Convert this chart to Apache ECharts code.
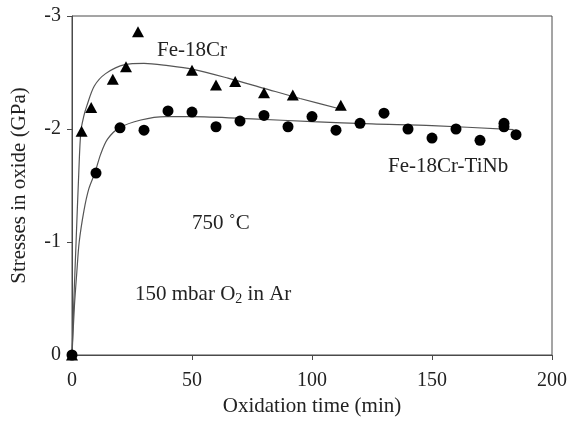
<!DOCTYPE html>
<html>
<head>
<meta charset="utf-8">
<script src="https://cdn.jsdelivr.net/npm/echarts@6/dist/echarts.min.js"></script>
<style>
  html, body { margin: 0; padding: 0; background: #fff; }
  #chart { width: 570px; height: 422px; }
</style>
</head>
<body>
<div id="chart"></div>
<script>
// Measured stresses in the oxide scale, [time (min), stress (GPa)]
var fe18Cr = [
  [0, 0], [4, -1.98], [8, -2.19], [17, -2.44], [22.5, -2.55], [27.5, -2.86],
  [50, -2.52], [60, -2.39], [68, -2.42], [80, -2.32], [92, -2.30], [112, -2.21]
];
var fe18CrTiNb = [
  [0, 0], [10, -1.61], [20, -2.01], [30, -1.99], [40, -2.16], [50, -2.15],
  [60, -2.02], [70, -2.07], [80, -2.12], [90, -2.02], [100, -2.11], [110, -1.99],
  [120, -2.05], [130, -2.14], [140, -2.00], [150, -1.92], [160, -2.00], [170, -1.90],
  [180, -2.05], [180, -2.02], [185, -1.95]
];
// Fitted trend curves
var fitFe18Cr = [
  [0, 0], [0.8, -0.5], [1.7, -1.0], [2.8, -1.6], [3.7, -1.98], [5, -2.12],
  [6.1, -2.2], [9.3, -2.38], [14, -2.49], [22, -2.57], [30, -2.58], [40, -2.56],
  [50, -2.53], [65, -2.45], [80, -2.36], [95, -2.27], [113, -2.17]
];
var fitFe18CrTiNb = [
  [0, 0], [1, -0.43], [2, -0.73], [3, -1.0], [5, -1.28], [7, -1.47], [9.5, -1.61],
  [12, -1.78], [14.8, -1.91], [19.7, -2.01], [28.7, -2.08], [39, -2.11], [50, -2.11],
  [75, -2.09], [100, -2.065], [125, -2.045], [150, -2.03], [184, -1.995]
];
// Axis ticks
var xTicks = [0, 50, 100, 150, 200];
var yTicks = [-3, -2, -1, 0];

var FONT = 'Liberation Serif';
var AXIS_COLOR = '#4a4a4a';
var TEXT_COLOR = '#222';

var chart = echarts.init(document.getElementById('chart'), null, { renderer: 'canvas' });

chart.setOption({
  backgroundColor: '#fff',
  animation: false,
  grid: {
    left: 72, right: 17, top: 16, bottom: 66,
    show: true, borderColor: AXIS_COLOR, borderWidth: 1
  },
  xAxis: {
    type: 'value',
    min: xTicks[0], max: xTicks[xTicks.length - 1], interval: 50,
    name: 'Oxidation time (min)',
    nameLocation: 'middle', nameGap: 41,
    nameTextStyle: { fontFamily: FONT, fontSize: 21, color: TEXT_COLOR },
    axisLine: { lineStyle: { color: AXIS_COLOR, width: 1 } },
    axisTick: { inside: false, length: 5, lineStyle: { color: AXIS_COLOR } },
    axisLabel: { fontFamily: FONT, fontSize: 20, color: TEXT_COLOR, margin: 16 },
    splitLine: { show: false }
  },
  yAxis: {
    type: 'value',
    inverse: true,
    min: yTicks[0], max: yTicks[yTicks.length - 1], interval: 1,
    name: 'Stresses in oxide (GPa)',
    nameLocation: 'middle', nameGap: 42,
    nameTextStyle: { fontFamily: FONT, fontSize: 21, color: TEXT_COLOR },
    axisLine: { lineStyle: { color: AXIS_COLOR, width: 1 } },
    axisTick: { inside: false, length: 5, lineStyle: { color: AXIS_COLOR } },
    axisLabel: { fontFamily: FONT, fontSize: 20, color: TEXT_COLOR, margin: 11 },
    splitLine: { show: false }
  },
  series: [
    {
      name: 'fit Fe-18Cr', type: 'line', data: fitFe18Cr, smooth: 0.3,
      showSymbol: false, lineStyle: { color: '#555', width: 1.2 }, z: 2
    },
    {
      name: 'fit Fe-18Cr-TiNb', type: 'line', data: fitFe18CrTiNb, smooth: 0.3,
      showSymbol: false, lineStyle: { color: '#555', width: 1.2 }, z: 2
    },
    {
      name: 'Fe-18Cr', type: 'scatter', data: fe18Cr, symbol: 'triangle',
      symbolSize: [12, 11], itemStyle: { color: '#000', opacity: 1 }, clip: false, z: 3
    },
    {
      name: 'Fe-18Cr-TiNb', type: 'scatter', data: fe18CrTiNb, symbol: 'circle',
      symbolSize: 11, itemStyle: { color: '#000', opacity: 1 }, clip: false, z: 4
    }
  ],
  graphic: [
    {
      type: 'text', left: 157, top: 40,
      style: { text: 'Fe-18Cr', font: '21px "Liberation Serif"', fill: TEXT_COLOR }
    },
    {
      type: 'text', left: 388, top: 156,
      style: { text: 'Fe-18Cr-TiNb', font: '21px "Liberation Serif"', fill: TEXT_COLOR }
    },
    {
      type: 'text', left: 192, top: 213,
      style: { text: '750 ˚C', font: '21px "Liberation Serif"', fill: TEXT_COLOR }
    },
    {
      type: 'text', left: 135, top: 284,
      style: {
        text: '{a|150 mbar O}{s|2}{a| in Ar}',
        rich: {
          a: { fontFamily: FONT, fontSize: 21, fill: TEXT_COLOR, color: TEXT_COLOR },
          s: { fontFamily: FONT, fontSize: 14, fill: TEXT_COLOR, color: TEXT_COLOR, padding: [10, 0, 0, 0] }
        }
      }
    }
  ]
});
</script>
</body>
</html>
